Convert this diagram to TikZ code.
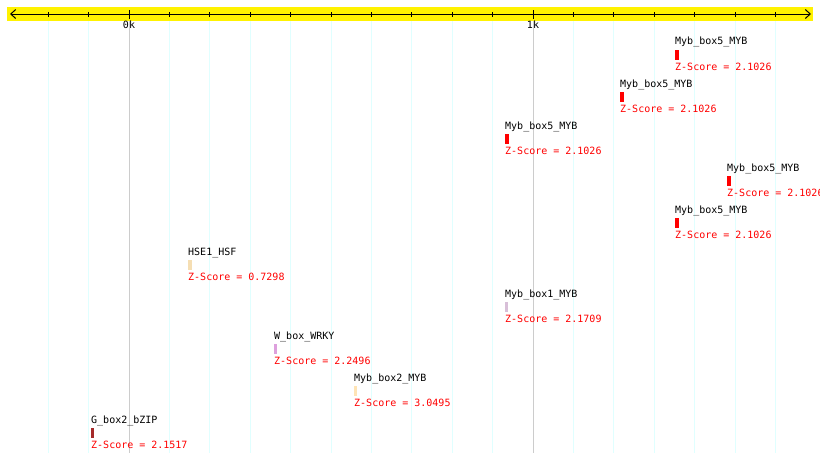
\documentclass[tikz,border=0pt]{standalone}
\usepackage{fontspec}
\setmonofont{DejaVu Sans Mono}
\usepackage{tikz}
\usetikzlibrary{arrows.meta}

\definecolor{gridcyan}{HTML}{E0FFFF}
\definecolor{majorgrey}{HTML}{CCCCCC}
\definecolor{hsfwheat}{HTML}{F5DEB3}
\definecolor{wrkyplum}{HTML}{DDA0DD}
\definecolor{mybthistle}{HTML}{D8BFD8}
\definecolor{mybmoccasin}{HTML}{FFE4B5}
\definecolor{bzipbrown}{HTML}{A52A2A}

\tikzset{
  tfname/.style={anchor=base west,inner sep=0pt,font=\ttfamily\fontsize{10}{12}\selectfont},
  zscore/.style={tfname,text=red},
  kblabel/.style={anchor=base,inner sep=0pt,font=\ttfamily\fontsize{10}{12}\selectfont}
}

\begin{document}
\begin{tikzpicture}[x=1pt,y=-1pt]
\useasboundingbox (0,0) rectangle (820,463);
\clip (0,0) rectangle (820,463);
\fill[white] (0,0) rectangle (820,463);

% ruler
\fill[yellow] (7,7) rectangle (813,21);
\foreach \k in {-2,...,16}
  \draw[gridcyan,line width=1pt] ({129+40.4*\k},21)--({129+40.4*\k},453);
\draw[majorgrey,line width=1pt] (129,21)--(129,453);
\draw[majorgrey,line width=1pt] (533,21)--(533,453);

\coordinate (L) at (10,14);
\coordinate (R) at (811,14);
\draw[line width=1pt,{Straight Barb[length=5pt,width=9pt]}-{Straight Barb[length=5pt,width=9pt]}] (L)--(R);
\foreach \k in {-2,...,16}
  \draw[line width=1pt] ({129+40.4*\k},12)--({129+40.4*\k},17);
\draw[line width=1pt] (129,10)--(129,19);
\draw[line width=1pt] (533,10)--(533,19);

\node[kblabel] (k0) at (129,28) {0k};
\node[kblabel] (k1) at (533,28) {1k};

% Myb_box5_MYB
\coordinate (f1) at (675,50);
\fill[red] (f1) rectangle ++(3.5,10);
\node[tfname] (f1n) at (675,45) {Myb\_box5\_MYB};
\node[zscore] (f1z) at (675,70) {Z-Score = 2.1026};

\coordinate (f2) at (620,92);
\fill[red] (f2) rectangle ++(3.5,10);
\node[tfname] (f2n) at (620,87) {Myb\_box5\_MYB};
\node[zscore] (f2z) at (620,112) {Z-Score = 2.1026};

\coordinate (f3) at (505,134);
\fill[red] (f3) rectangle ++(3.5,10);
\node[tfname] (f3n) at (505,129) {Myb\_box5\_MYB};
\node[zscore] (f3z) at (505,154) {Z-Score = 2.1026};

\coordinate (f4) at (727,176);
\fill[red] (f4) rectangle ++(3.5,10);
\node[tfname] (f4n) at (727,171) {Myb\_box5\_MYB};
\node[zscore] (f4z) at (727,196) {Z-Score = 2.1026};

\coordinate (f5) at (675,218);
\fill[red] (f5) rectangle ++(3.5,10);
\node[tfname] (f5n) at (675,213) {Myb\_box5\_MYB};
\node[zscore] (f5z) at (675,238) {Z-Score = 2.1026};

% HSE1_HSF
\coordinate (f6) at (188,260);
\fill[hsfwheat] (f6) rectangle ++(4,10);
\node[tfname] (f6n) at (188,255) {HSE1\_HSF};
\node[zscore] (f6z) at (188,280) {Z-Score = 0.7298};

% Myb_box1_MYB
\coordinate (f7) at (505,302);
\fill[mybthistle] (f7) rectangle ++(3,10);
\node[tfname] (f7n) at (505,297) {Myb\_box1\_MYB};
\node[zscore] (f7z) at (505,322) {Z-Score = 2.1709};

% W_box_WRKY
\coordinate (f8) at (274,344);
\fill[wrkyplum] (f8) rectangle ++(3,10);
\node[tfname] (f8n) at (274,339) {W\_box\_WRKY};
\node[zscore] (f8z) at (274,364) {Z-Score = 2.2496};

% Myb_box2_MYB
\coordinate (f9) at (354,386);
\fill[mybmoccasin] (f9) rectangle ++(3,10);
\node[tfname] (f9n) at (354,381) {Myb\_box2\_MYB};
\node[zscore] (f9z) at (354,406) {Z-Score = 3.0495};

% G_box2_bZIP
\coordinate (f10) at (91,428);
\fill[bzipbrown] (f10) rectangle ++(3,10);
\node[tfname] (f10n) at (91,423) {G\_box2\_bZIP};
\node[zscore] (f10z) at (91,448) {Z-Score = 2.1517};

\end{tikzpicture}
\end{document}
